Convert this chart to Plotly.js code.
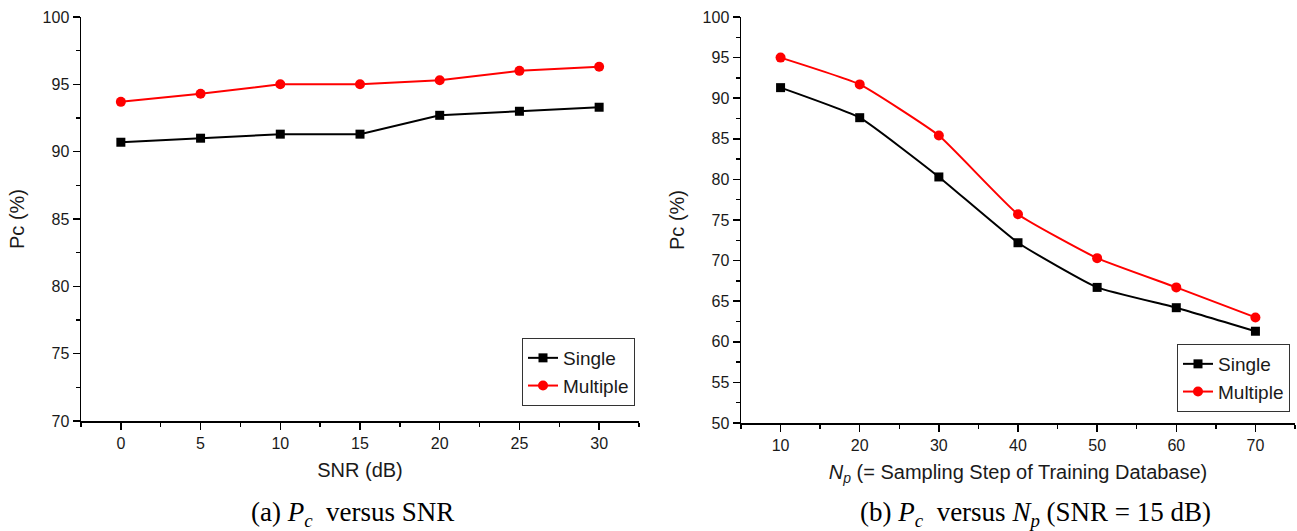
<!DOCTYPE html>
<html>
<head>
<meta charset="utf-8">
<script src="https://cdn.plot.ly/plotly-3.0.1.min.js"></script>
<style>
  html, body { margin: 0; padding: 0; background: #fff; }
  #chart { width: 1297px; height: 531px; }
</style>
</head>
<body>
<div id="chart"></div>
<script>
// ---- Data: (a) Pc versus SNR ----
const snr = [0, 5, 10, 15, 20, 25, 30];
const snrSingle = [90.7, 91.0, 91.3, 91.3, 92.7, 93.0, 93.3];
const snrMultiple = [93.7, 94.3, 95.0, 95.0, 95.3, 96.0, 96.3];

// ---- Data: (b) Pc versus Np (SNR = 15 dB) ----
const np = [10, 20, 30, 40, 50, 60, 70];
const npSingle = [91.3, 87.6, 80.3, 72.2, 66.7, 64.2, 61.3];
const npMultiple = [95.0, 91.7, 85.4, 75.7, 70.3, 66.7, 63.0];

const seriesNames = ['Single', 'Multiple'];
const captions = ['(a) <i>P<sub>c</sub></i>  versus SNR',
                  '(b) <i>P<sub>c</sub></i>  versus <i>N<sub>p</sub></i> (SNR = 15 dB)'];

const W = 1297, H = 531;
const px = v => v / W;
const py = v => 1 - v / H;

const sans = 'Arial, "Liberation Sans", sans-serif';
const serif = '"Times New Roman", "Liberation Serif", serif';

const blackStyle = {color: '#000000', width: 2};
const redStyle = {color: '#ff0000', width: 2};

const traces = [
  {x: snr, y: snrSingle, name: seriesNames[0], mode: 'lines+markers', type: 'scatter',
   xaxis: 'x', yaxis: 'y', legend: 'legend',
   line: blackStyle, marker: {symbol: 'square', size: 9, color: '#000000'}},
  {x: snr, y: snrMultiple, name: seriesNames[1], mode: 'lines+markers', type: 'scatter',
   xaxis: 'x', yaxis: 'y', legend: 'legend',
   line: redStyle, marker: {symbol: 'circle', size: 10, color: '#ff0000'}},
  {x: np, y: npSingle, name: seriesNames[0], mode: 'lines+markers', type: 'scatter',
   xaxis: 'x2', yaxis: 'y2', legend: 'legend2',
   line: Object.assign({shape: 'spline', smoothing: 0.4}, blackStyle),
   marker: {symbol: 'square', size: 9, color: '#000000'}},
  {x: np, y: npMultiple, name: seriesNames[1], mode: 'lines+markers', type: 'scatter',
   xaxis: 'x2', yaxis: 'y2', legend: 'legend2',
   line: Object.assign({shape: 'spline', smoothing: 0.4}, redStyle),
   marker: {symbol: 'circle', size: 10, color: '#ff0000'}}
];

const axisCommon = {
  showline: true, linecolor: '#000', linewidth: 1.5, mirror: false,
  showgrid: false, zeroline: false,
  ticks: 'outside', ticklen: 7, tickwidth: 1.5, tickcolor: '#000',
  tickfont: {family: sans, size: 16, color: '#1a1a1a'},
  fixedrange: true
};

const titleFont = {family: sans, size: 20, color: '#1a1a1a'};

const layout = {
  width: W, height: H,
  margin: {l: 0, r: 0, t: 0, b: 0},
  paper_bgcolor: '#ffffff', plot_bgcolor: '#ffffff',
  showlegend: true,
  xaxis: Object.assign({}, axisCommon, {
    domain: [px(81), px(639)], range: [-2.5, 32.5],
    tick0: 0, dtick: 5, anchor: 'y',
    minor: {ticks: 'outside', dtick: 2.5, ticklen: 4, tickwidth: 1.5, tickcolor: '#000'},
    title: {text: 'SNR (dB)', font: titleFont, standoff: 12}
  }),
  yaxis: Object.assign({}, axisCommon, {
    domain: [py(421), py(17)], range: [70, 100],
    tick0: 70, dtick: 5, anchor: 'x',
    minor: {ticks: 'outside', dtick: 2.5, ticklen: 4, tickwidth: 1.5, tickcolor: '#000'},
    title: {text: 'Pc (%)', font: titleFont, standoff: 12}
  }),
  xaxis2: Object.assign({}, axisCommon, {
    domain: [px(741), px(1295)], range: [5, 75],
    tick0: 10, dtick: 10, anchor: 'y2',
    minor: {ticks: 'outside', dtick: 5, ticklen: 4, tickwidth: 1.5, tickcolor: '#000'},
    title: {text: '<i>N<sub>p</sub></i> (= Sampling Step of Training Database)',
            font: titleFont, standoff: 12}
  }),
  yaxis2: Object.assign({}, axisCommon, {
    domain: [py(423), py(17)], range: [50, 100],
    tick0: 50, dtick: 5, anchor: 'x2',
    minor: {ticks: 'outside', dtick: 2.5, ticklen: 4, tickwidth: 1.5, tickcolor: '#000'},
    title: {text: 'Pc (%)', font: titleFont, standoff: 12}
  }),
  legend: {
    x: px(635), y: py(406), xanchor: 'right', yanchor: 'bottom',
    bgcolor: '#ffffff', bordercolor: '#333', borderwidth: 1,
    font: {family: sans, size: 19, color: '#1a1a1a'},
    itemwidth: 30, tracegroupgap: 0
  },
  legend2: {
    x: px(1290), y: py(412), xanchor: 'right', yanchor: 'bottom',
    bgcolor: '#ffffff', bordercolor: '#333', borderwidth: 1,
    font: {family: sans, size: 19, color: '#1a1a1a'},
    itemwidth: 30, tracegroupgap: 0
  },
  annotations: [
    {text: captions[0], xref: 'paper', yref: 'paper', x: px(352), y: py(514),
     xanchor: 'center', yanchor: 'middle', showarrow: false,
     font: {family: serif, size: 27, color: '#000'}},
    {text: captions[1], xref: 'paper', yref: 'paper', x: px(1035), y: py(514),
     xanchor: 'center', yanchor: 'middle', showarrow: false,
     font: {family: serif, size: 27, color: '#000'}}
  ]
};

Plotly.newPlot('chart', traces, layout, {displayModeBar: false, staticPlot: true});
</script>
</body>
</html>
